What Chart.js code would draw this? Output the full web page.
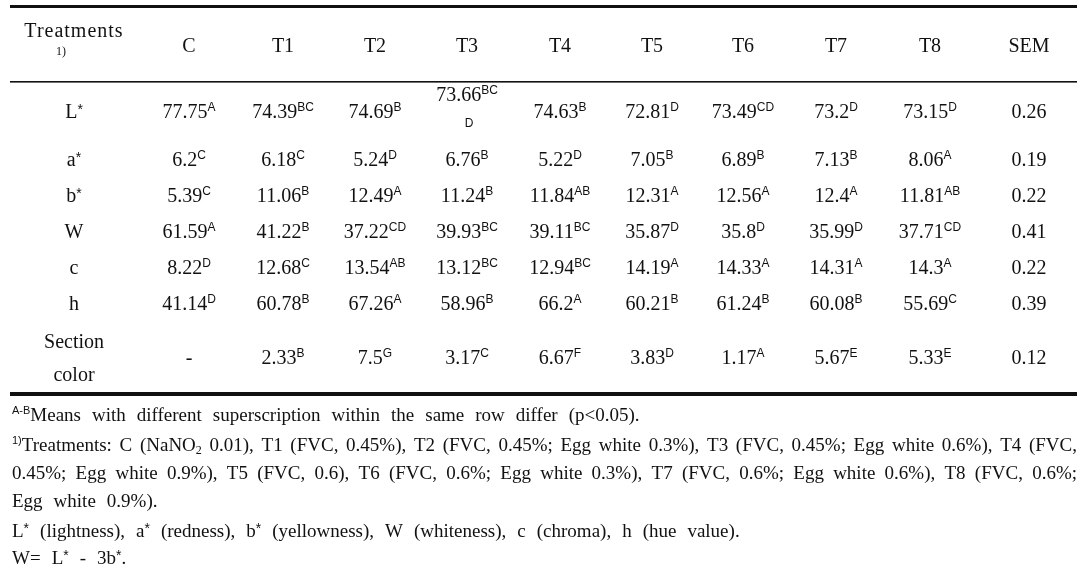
<!DOCTYPE html>
<html>
<head>
<meta charset="utf-8">
<script src="https://cdn.jsdelivr.net/npm/chart.js@4.4.1/dist/chart.umd.min.js"></script>
<style>
  html, body { margin: 0; padding: 0; background: #fff; }
  canvas { display: block; }
</style>
</head>
<body>
<canvas id="tbl" width="1092" height="588"></canvas>
<script>
// column heads and row heads
const treatments = ['C', 'T1', 'T2', 'T3', 'T4', 'T5', 'T6', 'T7', 'T8'];
const rowLabels = ['L^{*}', 'a^{*}', 'b^{*}', 'W', 'c', 'h', 'Section|color'];

// values + superscript letters, one pair per row
const lightness = [77.75, 74.39, 74.69, 73.66, 74.63, 72.81, 73.49, 73.2, 73.15];
const lightnessSup = ['A', 'BC', 'B', 'BCD', 'B', 'D', 'CD', 'D', 'D'];
const redness = [6.2, 6.18, 5.24, 6.76, 5.22, 7.05, 6.89, 7.13, 8.06];
const rednessSup = ['C', 'C', 'D', 'B', 'D', 'B', 'B', 'B', 'A'];
const yellowness = [5.39, 11.06, 12.49, 11.24, 11.84, 12.31, 12.56, 12.4, 11.81];
const yellownessSup = ['C', 'B', 'A', 'B', 'AB', 'A', 'A', 'A', 'AB'];
const whiteness = [61.59, 41.22, 37.22, 39.93, 39.11, 35.87, 35.8, 35.99, 37.71];
const whitenessSup = ['A', 'B', 'CD', 'BC', 'BC', 'D', 'D', 'D', 'CD'];
const chroma = [8.22, 12.68, 13.54, 13.12, 12.94, 14.19, 14.33, 14.31, 14.3];
const chromaSup = ['D', 'C', 'AB', 'BC', 'BC', 'A', 'A', 'A', 'A'];
const hue = [41.14, 60.78, 67.26, 58.96, 66.2, 60.21, 61.24, 60.08, 55.69];
const hueSup = ['D', 'B', 'A', 'B', 'A', 'B', 'B', 'B', 'C'];
const sectionColor = [null, 2.33, 7.5, 3.17, 6.67, 3.83, 1.17, 5.67, 5.33];
const sectionColorSup = ['', 'B', 'G', 'C', 'F', 'D', 'A', 'E', 'E'];
const sem = [0.26, 0.19, 0.22, 0.41, 0.22, 0.39, 0.12];

const footnotes = [
  '^{A-B}Means with different superscription within the same row differ (p<0.05).',
  '^{1)}Treatments: C (NaNO_{2} 0.01), T1 (FVC, 0.45%), T2 (FVC, 0.45%; Egg white 0.3%), T3 (FVC, 0.45%; Egg white 0.6%), T4 (FVC,',
  '0.45%; Egg white 0.9%), T5 (FVC, 0.6), T6 (FVC, 0.6%; Egg white 0.3%), T7 (FVC, 0.6%; Egg white 0.6%), T8 (FVC, 0.6%;',
  'Egg white 0.9%).',
  'L^{*} (lightness), a^{*} (redness), b^{*} (yellowness), W (whiteness), c (chroma), h (hue value).',
  'W= L^{*} - 3b^{*}.'
];

// layout of the grid (scale units = px from the table's top-left corner)
const colX = [64, 179, 273, 365, 457, 550, 642, 733, 826, 920, 1019];
const rowH = [75, 58.5, 36, 36, 36, 36, 36, 73.5];
const tableW = 1067;
const tableH = rowH.reduce((a, b) => a + b, 0);
const rowMid = i => rowH.slice(0, i).reduce((a, b) => a + b, 0) + rowH[i] / 2;

const serif = '"Liberation Serif", "Times New Roman", serif';
const sans = '"Liberation Sans", Arial, sans-serif';
const ink = '#111';

const bodyVals = [lightness, redness, yellowness, whiteness, chroma, hue, sectionColor];
const bodySups = [lightnessSup, rednessSup, yellownessSup, whitenessSup, chromaSup, hueSup, sectionColorSup];

const datasets = [];
datasets.push({
  data: colX.map(x => ({ x: x, y: rowMid(0) })),
  cells: [{ kind: 'corner' }].concat(treatments.map(t => ({ main: t, sup: '' })), [{ main: 'SEM', sup: '' }])
});
rowLabels.forEach((lab, r) => {
  const cells = [{ kind: 'label', text: lab }];
  bodyVals[r].forEach((v, j) => cells.push({ main: v === null ? '-' : String(v), sup: bodySups[r][j] }));
  cells.push({ main: String(sem[r]), sup: '' });
  datasets.push({ data: colX.map(x => ({ x: x, y: rowMid(r + 1) })), cells: cells });
});

function parseRuns(word) {
  const runs = [];
  const re = /\^\{([^}]*)\}|_\{([^}]*)\}|([^\^_]+)/g;
  let m;
  while ((m = re.exec(word))) {
    if (m[1] !== undefined) runs.push({ t: m[1], k: 'sup' });
    else if (m[2] !== undefined) runs.push({ t: m[2], k: 'sub' });
    else runs.push({ t: m[3], k: 'n' });
  }
  return runs;
}

function runStyle(run, size) {
  if (run.k === 'n') return { font: size + 'px ' + serif, dy: 0 };
  if (run.t === '*') return { font: '14px ' + sans, dy: -4 };
  if (run.k === 'sup') return { font: '11px ' + sans, dy: -7 };
  return { font: '12px ' + serif, dy: 3 };
}

function wordWidth(ctx, runs, size) {
  let w = 0;
  runs.forEach(r => { ctx.font = runStyle(r, size).font; w += ctx.measureText(r.t).width; });
  return w;
}

function drawRuns(ctx, runs, x, y, size) {
  runs.forEach(r => {
    const st = runStyle(r, size);
    ctx.font = st.font;
    ctx.fillText(r.t, x, y + st.dy);
    x += ctx.measureText(r.t).width;
  });
  return x;
}

function drawLine(ctx, text, x0, y, size, gap, justifyTo) {
  const words = text.split(' ').map(parseRuns);
  const widths = words.map(w => wordWidth(ctx, w, size));
  if (justifyTo) {
    const sum = widths.reduce((a, b) => a + b, 0);
    gap = (justifyTo - x0 - sum) / (words.length - 1);
  }
  let x = x0;
  words.forEach((w, i) => { drawRuns(ctx, w, x, y, size); x += widths[i] + gap; });
}

function drawValue(ctx, main, sup, cx, base) {
  ctx.font = '20px ' + serif;
  const mw = ctx.measureText(main).width;
  ctx.font = '12px ' + sans;
  const sw = sup ? ctx.measureText(sup).width : 0;
  let x = cx - (mw + sw) / 2;
  ctx.font = '20px ' + serif;
  ctx.fillText(main, x, base);
  if (sup) {
    ctx.font = '12px ' + sans;
    ctx.fillText(sup, x + mw, base - 7);
  }
}

const tablePlugin = {
  id: 'tablePlugin',
  afterDatasetsDraw(chart) {
    const ctx = chart.ctx;
    const xs = chart.scales.x, ys = chart.scales.y;
    const left = xs.getPixelForValue(0), right = xs.getPixelForValue(tableW);
    ctx.save();
    ctx.fillStyle = ink;
    // rules
    const top = ys.getPixelForValue(0);
    const head = ys.getPixelForValue(rowH[0]);
    const bottom = ys.getPixelForValue(tableH);
    ctx.fillRect(left, top - 2, right - left, 3);
    ctx.fillRect(left, head - 1, right - left, 1.6);
    ctx.fillRect(left, bottom - 2, right - left, 4);

    ctx.textBaseline = 'alphabetic';
    ctx.textAlign = 'left';
    chart.data.datasets.forEach((ds, di) => {
      const meta = chart.getDatasetMeta(di);
      meta.data.forEach((pt, j) => {
        const c = ds.cells[j];
        const cx = pt.x, cy = pt.y;
        if (c.kind === 'corner') {
          ctx.font = '20px ' + serif;
          ctx.letterSpacing = '1px';
          const w = ctx.measureText('Treatments').width;
          ctx.fillText('Treatments', cx - w / 2, cy - 8);
          ctx.letterSpacing = '0px';
          ctx.font = '12px ' + serif;
          ctx.fillText('1)', cx - 18, cy + 10);
        } else if (c.kind === 'label') {
          const lines = c.text.split('|');
          lines.forEach((ln, k) => {
            const runs = parseRuns(ln);
            const w = wordWidth(ctx, runs, 20);
            const off = lines.length > 1 ? (k === 0 ? -16.5 : 16.5) : 0;
            drawRuns(ctx, runs, cx - w / 2, cy + off + 7, 20);
          });
        } else if (c.sup.length > 2) {
          // too wide for the cell: last letters wrap onto a second line
          drawValue(ctx, c.main, c.sup.slice(0, 2), cx, cy - 10);
          ctx.font = '12px ' + sans;
          const rest = c.sup.slice(2);
          const w = ctx.measureText(rest).width;
          ctx.fillText(rest, cx + 2 - w / 2, cy + 16);
        } else {
          drawValue(ctx, c.main, c.sup, cx, cy + 7);
        }
      });
    });

    // footnotes under the table
    const fx = left + 2;
    const baselines = [421, 451, 479, 507, 537, 564];
    footnotes.forEach((f, i) => {
      const justify = (i === 1 || i === 2) ? right : null;
      drawLine(ctx, f, fx, baselines[i], 19, 11, justify);
    });
    ctx.restore();
  }
};

new Chart(document.getElementById('tbl'), {
  type: 'scatter',
  data: { datasets: datasets },
  options: {
    responsive: false,
    animation: false,
    devicePixelRatio: 1,
    events: [],
    layout: { padding: { left: 10, top: 7, right: 15, bottom: 194 } },
    elements: { point: { radius: 0, hoverRadius: 0 } },
    scales: {
      x: { type: 'linear', display: false, min: 0, max: tableW },
      y: { type: 'linear', display: false, min: 0, max: tableH, reverse: true }
    },
    plugins: { legend: { display: false }, tooltip: { enabled: false } }
  },
  plugins: [tablePlugin]
});
</script>
</body>
</html>
